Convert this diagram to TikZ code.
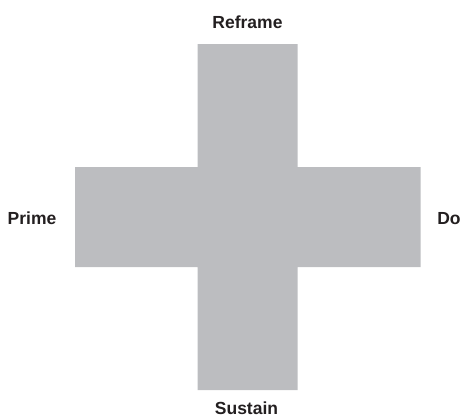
\documentclass[tikz,border=0pt]{standalone}
\usepackage{fontspec}
\setmainfont{Liberation Sans}
\definecolor{crossgray}{HTML}{BCBDC0}
\definecolor{labelink}{HTML}{231F20}
\begin{document}
\begin{tikzpicture}[x=1pt,y=-1pt,
  arm/.style={fill=crossgray,draw=none},
  lbl/.style={text=labelink,font=\fontsize{17.5}{20}\selectfont\bfseries,inner sep=0pt}]
\useasboundingbox (0,0) rectangle (462,418);
\fill[crossgray] (197.5,44) -- (297.5,44) -- (297.5,167) -- (420.5,167) -- (420.5,267)
  -- (297.5,267) -- (297.5,390) -- (197.5,390) -- (197.5,267) -- (75,267) -- (75,167)
  -- (197.5,167) -- cycle;
\node[lbl,anchor=base] (reframe) at (247.5,28) {Reframe};
\node[lbl,anchor=base] (prime) at (32,224.5) {Prime};
\node[lbl,anchor=base] (do) at (449,224.5) {Do};
\node[lbl,anchor=base] (sustain) at (246.5,414.5) {Sustain};
\end{tikzpicture}
\end{document}
